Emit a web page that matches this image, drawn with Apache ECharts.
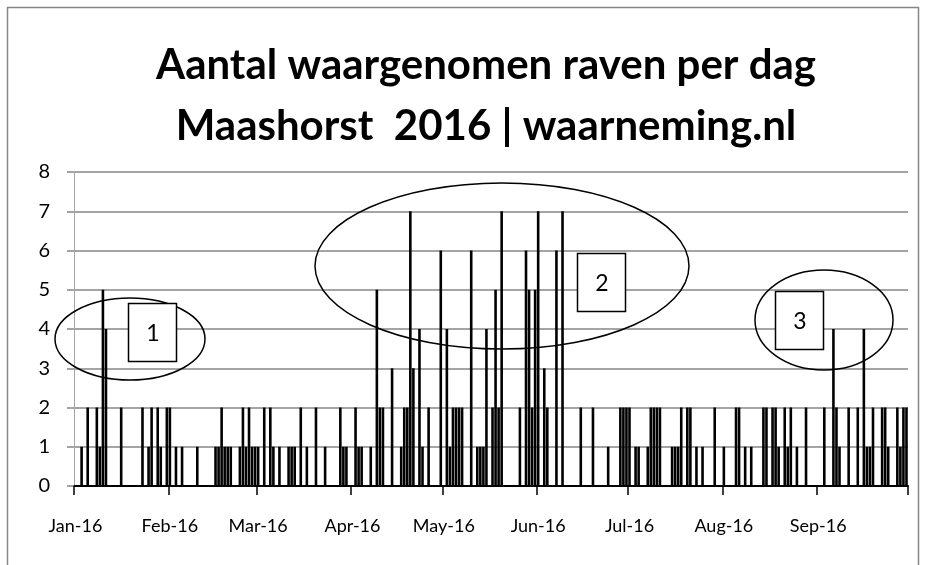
<!DOCTYPE html>
<html>
<head>
<meta charset="utf-8">
<script src="https://cdn.jsdelivr.net/npm/echarts@6/dist/echarts.min.js"></script>
<style>
  html, body { margin: 0; padding: 0; background: #fff; }
  #chart { width: 925px; height: 565px; }
</style>
</head>
<body>
<div id="chart"></div>
<script>
// waargenomen raven per dag, per maand (2016)
const jan = [0,0,1,0,2,0,0,2,1,5, 4,0,0,0,0,2,0,0,0,0, 0,0,2,0,1,2,0,2,1,0, 2];
const feb = [2,0,1,0,1,0,0,0,0,1, 0,0,0,0,0,1,1,2,1,1, 1,0,0,1,2,1,2,1,1];
const mar = [1,0,2,0,2,1,0,1,0,0, 1,1,1,0,2,0,1,0,0,2, 0,0,1,0,0,0,0,2,1,1, 0];
const apr = [0,2,1,1,0,0,1,0,5,2, 2,0,0,3,0,0,1,2,2,7, 3,0,4,1,0,2,0,0,0,6];
const may = [0,4,1,2,2,2,2,0,0,6, 0,1,1,1,4,0,2,5,2,7, 0,0,0,0,0,2,0,6,5,2, 5];
const jun = [7,0,3,2,0,0,6,0,7,0, 0,0,0,0,2,0,0,0,2,0, 0,0,0,1,0,0,0,2,2,2];
const jul = [2,0,1,1,0,0,1,2,2,2, 2,0,0,0,1,1,1,2,0,2, 2,0,1,0,1,0,0,0,2,0, 0];
const aug = [1,0,0,0,2,2,0,1,0,1, 0,0,0,2,2,0,2,2,1,0, 2,1,2,0,1,0,0,2,0,0, 0];
const sep = [0,0,2,0,0,4,2,1,0,0, 2,0,0,2,0,4,1,1,2,0, 0,2,2,1,0,0,2,1,2,2];

const monthLabels = ['Jan-16','Feb-16','Mar-16','Apr-16','May-16','Jun-16','Jul-16','Aug-16','Sep-16'];
const yTicks = [0,1,2,3,4,5,6,7,8];

const months = [jan, feb, mar, apr, may, jun, jul, aug, sep];
const values = [];
const days = [];
const monthStart = {};
months.forEach((m, mi) => {
  monthStart[days.length] = monthLabels[mi];
  m.forEach((v, d) => {
    days.push('2016-' + String(mi + 1).padStart(2, '0') + '-' + String(d + 1).padStart(2, '0'));
    values.push(v);
  });
});

const chart = echarts.init(document.getElementById('chart'), null, { renderer: 'canvas' });

const option = {
  backgroundColor: '#fff',
  animation: false,
  title: {
    text: 'Aantal waargenomen raven per dag\nMaashorst  2016 | waarneming.nl',
    left: 481,
    textAlign: 'center',
    top: 30,
    textStyle: {
      fontFamily: 'Lato',
      fontWeight: 'bold',
      fontSize: 42,
      lineHeight: 61,
      color: '#000'
    }
  },
  grid: { left: 74, right: 17, top: 172, bottom: 79, containLabel: false },
  xAxis: {
    type: 'category',
    data: days,
    boundaryGap: true,
    axisLine: { lineStyle: { color: '#000', width: 2 } },
    axisTick: {
      show: true,
      length: 9,
      lineStyle: { color: '#000', width: 1.5 },
      interval: (i) => monthStart[i] !== undefined
    },
    axisLabel: {
      interval: (i) => monthStart[i] !== undefined,
      formatter: (v, i) => monthStart[i] || '',
      margin: 31,
      fontFamily: 'Lato',
      fontSize: 18,
      color: '#000'
    },
    splitLine: { show: false }
  },
  yAxis: {
    type: 'value',
    min: yTicks[0],
    max: yTicks[yTicks.length - 1],
    interval: 1,
    axisLine: { show: true, lineStyle: { color: '#a6a6a6', width: 1 } },
    axisTick: { show: true, length: 7, lineStyle: { color: '#868686', width: 1.5 } },
    axisLabel: {
      margin: 24,
      fontFamily: 'Lato',
      fontSize: 20,
      color: '#000'
    },
    splitLine: { lineStyle: { color: '#868686', width: 1.5 } }
  },
  series: [{
    type: 'bar',
    data: values,
    barWidth: 2.6,
    itemStyle: { color: '#000' }
  }],
  graphic: [
    { type: 'rect', z: 100, silent: true, shape: { x: 7.5, y: 7.5, width: 911, height: 570 },
      style: { fill: 'none', stroke: '#868686', lineWidth: 1.5 } },
    // ellipses
    { type: 'ellipse', z: 100, shape: { cx: 130, cy: 339, rx: 75, ry: 41 },
      style: { fill: 'none', stroke: '#000', lineWidth: 1.5 } },
    { type: 'ellipse', z: 100, shape: { cx: 502, cy: 266, rx: 187, ry: 83 },
      style: { fill: 'none', stroke: '#000', lineWidth: 1.5 } },
    { type: 'ellipse', z: 100, shape: { cx: 824, cy: 320, rx: 69, ry: 50 },
      style: { fill: 'none', stroke: '#000', lineWidth: 1.5 } },
    // numbered boxes
    { type: 'rect', z: 101, shape: { x: 128.5, y: 303.5, width: 48, height: 58 },
      style: { fill: '#fff', stroke: '#000', lineWidth: 1.5 } },
    { type: 'text', z: 102, style: { text: '1', x: 153, y: 334, align: 'center', verticalAlign: 'middle',
      font: '23px Lato', fill: '#000' } },
    { type: 'rect', z: 101, shape: { x: 577.5, y: 253.5, width: 48, height: 58 },
      style: { fill: '#fff', stroke: '#000', lineWidth: 1.5 } },
    { type: 'text', z: 102, style: { text: '2', x: 602, y: 284, align: 'center', verticalAlign: 'middle',
      font: '23px Lato', fill: '#000' } },
    { type: 'rect', z: 101, shape: { x: 775.5, y: 291.5, width: 48, height: 58 },
      style: { fill: '#fff', stroke: '#000', lineWidth: 1.5 } },
    { type: 'text', z: 102, style: { text: '3', x: 800, y: 322, align: 'center', verticalAlign: 'middle',
      font: '23px Lato', fill: '#000' } }
  ]
};

chart.setOption(option);
</script>
</body>
</html>
